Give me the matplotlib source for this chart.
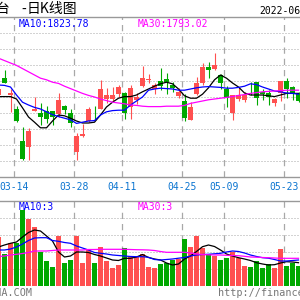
import matplotlib
matplotlib.use("Agg")
import matplotlib.pyplot as plt
import numpy as np

# daily candles, 2022-03-09 .. 2022-05-25 (visible part of the chart)
opens = [1780, 1822, 1780, 1745, 1665, 1651, 1741, 1734, 1740, 1740, 1732, 1752, 1735, 1637,
         1677, 1714, 1736, 1746, 1769, 1771, 1782, 1786, 1750, 1768, 1802, 1817, 1794, 1815,
         1819, 1805, 1777, 1765, 1717, 1782, 1809, 1851, 1846, 1831, 1795, 1734, 1770, 1767,
         1796, 1812, 1787, 1786, 1761, 1785, 1816, 1801, 1782]
closes = [1795, 1811, 1785, 1715, 1621, 1690, 1745, 1724, 1721, 1725, 1767, 1742, 1709, 1677,
          1682, 1744, 1734, 1794, 1780, 1780, 1801, 1736, 1797, 1775, 1823, 1821, 1805, 1802,
          1813, 1797, 1788, 1722, 1749, 1810, 1851, 1842, 1854, 1809, 1773, 1780, 1780, 1780,
          1794, 1773, 1782, 1776, 1770, 1815, 1796, 1786, 1764]
highs = [1800, 1842, 1795, 1752, 1699, 1698, 1775, 1761, 1752, 1741, 1785, 1754, 1745, 1685,
         1707, 1750, 1752, 1817, 1797, 1800, 1805, 1787, 1805, 1785, 1852, 1832, 1809, 1848,
         1834, 1812, 1797, 1782, 1762, 1825, 1859, 1863, 1886, 1832, 1802, 1780, 1801, 1788,
         1812, 1812, 1795, 1792, 1772, 1815, 1822, 1803, 1787]
lows = [1775, 1810, 1738, 1712, 1617, 1617, 1740, 1705, 1710, 1704, 1725, 1732, 1700, 1617,
        1675, 1712, 1717, 1745, 1760, 1765, 1775, 1720, 1720, 1757, 1800, 1809, 1782, 1792,
        1782, 1788, 1772, 1716, 1717, 1780, 1805, 1822, 1842, 1796, 1751, 1717, 1765, 1763,
        1780, 1755, 1767, 1755, 1752, 1765, 1772, 1767, 1763]

ma5 = [1776, 1776, 1776, 1770, 1748, 1725, 1712, 1698, 1698, 1715, 1730, 1728, 1722, 1715,
       1710, 1710, 1712, 1730, 1750, 1762, 1772, 1776, 1776, 1780, 1788, 1795, 1802, 1808,
       1812, 1808, 1795, 1778, 1772, 1772, 1782, 1798, 1818, 1830, 1822, 1810, 1800, 1785,
       1780, 1780, 1780, 1778, 1776, 1780, 1784, 1784, 1784]
ma10 = [1805, 1804, 1800, 1780, 1762, 1755, 1749, 1745, 1738, 1731, 1726, 1722, 1718, 1709,
        1712, 1715, 1716, 1730, 1738, 1741, 1742, 1742, 1755, 1765, 1775, 1792, 1795, 1797,
        1796, 1795, 1792, 1792, 1795, 1798, 1800, 1801, 1800, 1799, 1797, 1797, 1799, 1802,
        1808, 1806, 1800, 1795, 1790, 1788, 1785, 1784, 1782]
ma30 = [1872, 1866, 1860, 1854, 1846, 1838, 1830, 1822, 1818, 1812, 1809, 1802, 1796, 1790,
        1784, 1779, 1775, 1770, 1766, 1762, 1760, 1758, 1755, 1754, 1752, 1751, 1751, 1751,
        1752, 1752, 1752, 1754, 1759, 1762, 1765, 1768, 1770, 1772, 1774, 1776, 1779, 1781,
        1784, 1786, 1788, 1789, 1790, 1791, 1792, 1792, 1792]

# volume, thousand lots
vols = [49.3, 31.7, 42.7, 42.7, 76.0, 67.0, 59.3, 34.3, 25.0, 19.3, 50.3, 23.3, 26.0, 50.3,
        23.3, 36.0, 23.3, 39.3, 25.3, 18.3, 21.0, 38.3, 28.7, 28.7, 31.7, 19.3, 18.3, 22.0,
        22.7, 26.0, 27.0, 47.0, 39.3, 50.0, 38.3, 31.7, 30.3, 26.3, 27.7, 34.3, 27.7, 20.3,
        19.3, 25.0, 18.3, 22.0, 18.3, 37.0, 20.3, 22.7, 20.3]
vma5 = [39.0, 41.0, 42.7, 44.0, 49.0, 53.5, 56.0, 55.0, 50.0, 45.0, 34.0, 29.0, 30.0, 34.0,
        34.0, 33.5, 31.5, 30.0, 28.0, 26.0, 25.5, 27.7, 27.7, 29.0, 31.5, 28.5, 27.0, 26.0,
        23.0, 21.0, 22.0, 27.0, 30.0, 34.5, 39.3, 41.0, 39.5, 36.0, 32.0, 30.0, 28.3, 27.0,
        25.5, 23.3, 22.0, 21.0, 21.3, 23.0, 24.3, 24.0, 23.3]
vma10 = [36.0, 36.0, 37.0, 39.0, 42.0, 45.5, 48.0, 48.3, 48.3, 45.5, 44.7, 43.5, 42.7, 40.0,
         38.0, 36.0, 33.5, 32.7, 32.0, 31.0, 30.5, 30.0, 29.5, 29.3, 29.3, 28.7, 26.5, 26.0,
         26.5, 27.0, 27.8, 28.5, 30.0, 31.0, 31.5, 31.7, 32.2, 32.7, 34.0, 35.0, 34.5, 33.0,
         31.0, 29.5, 28.3, 27.8, 26.5, 25.0, 25.0, 25.5, 26.0]
vma30 = [29.5, 30.0, 31.0, 31.7, 32.5, 33.5, 35.0, 35.0, 35.0, 35.5, 36.0, 36.0, 36.0, 36.0,
         36.0, 36.5, 36.5, 36.7, 36.7, 36.7, 36.7, 36.7, 36.5, 36.3, 36.2, 36.0, 35.5, 34.5,
         33.7, 33.7, 33.7, 33.7, 33.0, 32.0, 31.5, 31.2, 31.0, 31.0, 30.7, 30.5, 30.3, 29.7,
         29.0, 28.8, 28.5, 28.3, 28.0, 27.7, 27.7, 27.7, 27.7]

tick_labels = ['03-14', '03-28', '04-11', '04-25', '05-09', '05-23']
tick_idx = [3, 13, 21, 31, 38, 48]

UP = '#ff5050'
DOWN = '#00a800'
GRID = '#a8a8a8'
FRAME = '#999999'
MONO = 'DejaVu Sans Mono'
CJK = ['Noto Sans CJK SC', 'DejaVu Sans']

o, c, h, l = map(np.array, (opens, closes, highs, lows))
x = np.arange(len(o))
up = c >= o
cols = np.where(up, UP, DOWN)

fig = plt.figure(figsize=(3, 3), dpi=100)
ax = fig.add_axes([0, 123 / 300, 1, 160 / 300])
axv = fig.add_axes([0, 14 / 300, 1, 85 / 300], sharex=ax)

for a in (ax, axv):
    a.set_xlim(0.25, 50.25)
    a.set_xticks([])
    a.set_yticks([])
    for s in ('left', 'right'):
        a.spines[s].set_visible(False)
    for s in ('top', 'bottom'):
        a.spines[s].set_color(FRAME)
        a.spines[s].set_linewidth(1.0)
    for t in tick_idx:
        a.axvline(t - 0.37, color=GRID, lw=0.9, ls=(0, (5, 4)), zorder=0)
axv.spines['bottom'].set_visible(False)

# price panel
ax.set_ylim(1575, 1975)
for g in np.arange(1615, 1975, 40):
    ax.axhline(g, color=GRID, lw=0.72, ls=(0, (1, 2)), zorder=0)
body = np.maximum(np.abs(c - o), 0.6)
ax.vlines(x, l, h, colors=cols, lw=0.8, zorder=2)
ax.bar(x, body, bottom=np.minimum(o, c), width=0.78, color=cols, lw=0, zorder=3)
ax.plot(x, ma5, color='black', lw=0.9, zorder=4)
ax.plot(x, ma10, color='#0000ff', lw=0.9, zorder=4)
ax.plot(x, ma30, color='#ff00ff', lw=0.9, zorder=4)

for t, lab in zip(tick_idx, tick_labels):
    ax.text(t - 0.45, -0.063, lab, transform=ax.get_xaxis_transform(), ha='center',
            va='center', fontsize=7, family=MONO, color='#0a74d0')

# volume panel
axv.set_ylim(0, 85)
for g in np.arange(17, 85, 17):
    axv.axhline(g, color=GRID, lw=0.72, ls=(0, (1, 2)), zorder=0)
axv.bar(x, vols, width=0.78, color=cols, lw=0, zorder=2)
axv.plot(x, vma5, color='black', lw=0.9, zorder=4)
axv.plot(x, vma10, color='#0000ff', lw=0.9, zorder=4)
axv.plot(x, vma30, color='#ff00ff', lw=0.9, zorder=4)

# texts
def ftext(px, py, s, **kw):
    fig.text(px / 300, 1 - py / 300, s, va='center', **kw)

ftext(-4, 9.5, '台', fontsize=10, family=CJK)
ftext(23.5, 9.5, '-', fontsize=10, family=CJK, ha='center')
ftext(27, 9.5, '日K线图', fontsize=10, family=CJK)
ftext(259, 10.5, '2022-06', fontsize=7, family=MONO, color='black')
ftext(19, 24, 'MA10:1823.78', fontsize=7, family=MONO, color='#0000ff')
ftext(138, 24, 'MA30:1793.02', fontsize=7, family=MONO, color='#ff00ff')
ftext(19, 206.5, 'MA10:3', fontsize=7, family=MONO, color='#0000ff')
ftext(138, 206.5, 'MA30:3', fontsize=7, family=MONO, color='#ff00ff')
ftext(32, 292.5, 'SINA.COM', fontsize=7.3, family=MONO, color='#777777', ha='right')
ftext(218, 292.5, 'http://finance.sina.com.cn', fontsize=7.3, family=MONO, color='#777777')

fig.savefig('out.png', dpi=100)
